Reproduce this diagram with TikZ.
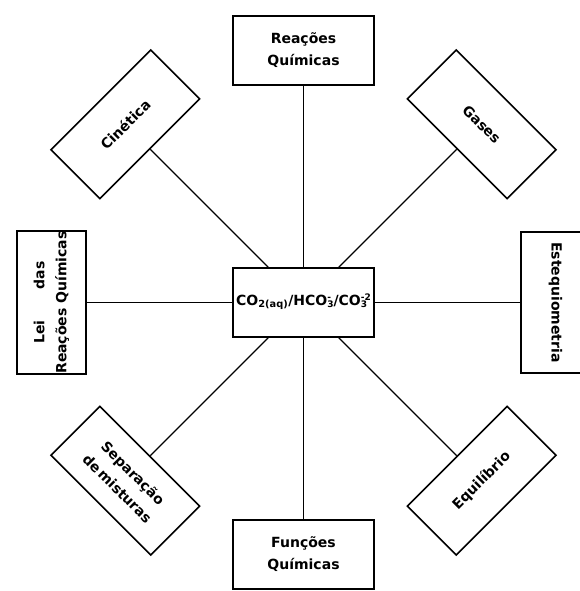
\documentclass[tikz,border=0pt]{standalone}
\usepackage{fontspec}
\setmainfont{DejaVu Sans}
\usepackage{tikz}

\newcommand{\ionsubsup}[2]{{\fontsize{9}{9}\selectfont\ooalign{\raisebox{-0.45ex}{#1}\cr\raisebox{1.1ex}{#2}\cr}}}

\begin{document}
\begin{tikzpicture}[x=1pt,y=1pt,
  caixa/.style={draw,line width=1.6pt,minimum width=141pt,minimum height=69pt,
    inner sep=0pt,align=center,font=\bfseries\fontsize{14}{22}\selectfont},
  liga/.style={line width=1.2pt}]
  \useasboundingbox (0,0) rectangle (579,-591);
  \node[caixa] (co) at (303.5,-302.5)
    {CO\textsubscript{2(aq)}/HCO\ionsubsup{3}{-}/CO\ionsubsup{3}{-2}};
  \node[caixa] (reacoes) at ([shift={(90:252)}]co) {Reações\\Químicas};
  \node[caixa,rotate=-45] (gases) at ([shift={(45:252)}]co) {Gases};
  \node[caixa,rotate=-90] (esteq) at ([shift={(0:252)}]co) {Estequiometria};
  \node[caixa,rotate=45] (equil) at ([shift={(-45:252)}]co) {Equilíbrio};
  \node[caixa] (funcoes) at ([shift={(-90:252)}]co) {Funções\\Químicas};
  \node[caixa,rotate=-45] (separ) at ([shift={(-135:252)}]co) {Separação\\de\,misturas};
  \node[caixa,rotate=90] (lei) at ([shift={(180:252)}]co) {Lei\hspace{2.2em}das\\Reações Químicas};
  \node[caixa,rotate=45] (cinet) at ([shift={(135:252)}]co) {Cinética};
  \draw[liga] (co) -- (reacoes);
  \draw[liga] (co) -- (gases);
  \draw[liga] (co) -- (esteq);
  \draw[liga] (co) -- (equil);
  \draw[liga] (co) -- (funcoes);
  \draw[liga] (co) -- (separ);
  \draw[liga] (co) -- (lei);
  \draw[liga] (co) -- (cinet);
\end{tikzpicture}
\end{document}
